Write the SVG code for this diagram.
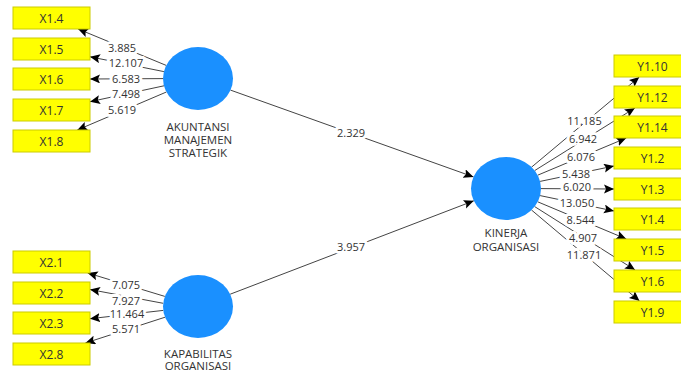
<svg xmlns="http://www.w3.org/2000/svg" width="681" height="373" viewBox="0 0 681 373">
<style>
.box{fill:#ffff00;stroke:#cccc00;stroke-width:1}
.bt{font-family:"Open Sans","Noto Sans",sans-serif;font-size:12px;fill:#333;text-anchor:middle}
.lv{fill:#1a90ff}
.lt{font-family:"Open Sans","Noto Sans",sans-serif;font-size:11.5px;fill:#333;text-anchor:middle}
.e{stroke:#444;stroke-width:1;fill:none;marker-end:url(#ah)}
.el{font-family:"Open Sans","Noto Sans",sans-serif;font-size:11px;fill:#333;text-anchor:middle;stroke:#fff;stroke-width:6;paint-order:stroke;stroke-linejoin:round}
</style>
<defs>
<marker id="ah" markerUnits="userSpaceOnUse" markerWidth="12" markerHeight="10" refX="10" refY="4.5" orient="auto">
<path d="M0,0 L10,4.5 L0,9 L2,4.5 Z" fill="#000"/>
</marker>
</defs>
<rect width="681" height="373" fill="#fff"/>
<g id="connectors">
<line class="e" x1="166.2" y1="65.4" x2="78.1" y2="29"/>
<line class="e" x1="163.9" y1="71.6" x2="90" y2="56.8"/>
<line class="e" x1="163" y1="78.6" x2="90" y2="79"/>
<line class="e" x1="164" y1="85.8" x2="90" y2="101.7"/>
<line class="e" x1="166.4" y1="92" x2="77.3" y2="130"/>
<line class="e" x1="164.8" y1="296.4" x2="87.7" y2="273"/>
<line class="e" x1="163.2" y1="303.3" x2="90" y2="289.5"/>
<line class="e" x1="163.3" y1="310.4" x2="90" y2="318.7"/>
<line class="e" x1="165.1" y1="317.2" x2="85.4" y2="343"/>
<line class="e" x1="230.5" y1="90.1" x2="473.5" y2="176.9"/>
<line class="e" x1="230.2" y1="294.2" x2="473.8" y2="200.8"/>
<line class="e" x1="531.6" y1="167.1" x2="639.3" y2="77"/>
<line class="e" x1="534.8" y1="170.5" x2="634.9" y2="108"/>
<line class="e" x1="537.7" y1="175.2" x2="626.3" y2="138"/>
<line class="e" x1="540.1" y1="181.4" x2="614" y2="166"/>
<line class="e" x1="541" y1="188.6" x2="614" y2="189"/>
<line class="e" x1="540.1" y1="195.6" x2="614" y2="211"/>
<line class="e" x1="537.7" y1="201.8" x2="626.3" y2="239"/>
<line class="e" x1="534.7" y1="206.6" x2="635.1" y2="270"/>
<line class="e" x1="531.5" y1="210" x2="639.5" y2="301"/>
<text class="el" x="122" y="52">3.885</text>
<text class="el" x="126" y="67">12.107</text>
<text class="el" x="126" y="83">6.583</text>
<text class="el" x="126" y="98">7.498</text>
<text class="el" x="122" y="114">5.619</text>
<text class="el" x="126" y="289">7.075</text>
<text class="el" x="126" y="305">7.927</text>
<text class="el" x="127" y="318">11.464</text>
<text class="el" x="126" y="333">5.571</text>
<text class="el" x="351" y="137">2.329</text>
<text class="el" x="351" y="251">3.957</text>
<text class="el" x="584.5" y="125">11.185</text>
<text class="el" x="583" y="143">6.942</text>
<text class="el" x="581" y="161">6.076</text>
<text class="el" x="576" y="178">5.438</text>
<text class="el" x="577" y="191">6.020</text>
<text class="el" x="577" y="207">13.050</text>
<text class="el" x="580.5" y="224">8.544</text>
<text class="el" x="583" y="242">4.907</text>
<text class="el" x="584" y="259">11.871</text>
</g>
<g id="X1.4"><rect class="box" x="13" y="7" width="77" height="22"/><text class="bt" x="51.5" y="22.5">X1.4</text></g>
<g id="X1.5"><rect class="box" x="13" y="38" width="77" height="22"/><text class="bt" x="51.5" y="53.5">X1.5</text></g>
<g id="X1.6"><rect class="box" x="13" y="68" width="77" height="22"/><text class="bt" x="51.5" y="83.5">X1.6</text></g>
<g id="X1.7"><rect class="box" x="13" y="99" width="77" height="22"/><text class="bt" x="51.5" y="114.5">X1.7</text></g>
<g id="X1.8"><rect class="box" x="13" y="130" width="77" height="22"/><text class="bt" x="51.5" y="145.5">X1.8</text></g>
<g id="X2.1"><rect class="box" x="13" y="251" width="77" height="22"/><text class="bt" x="51.5" y="266.5">X2.1</text></g>
<g id="X2.2"><rect class="box" x="13" y="282" width="77" height="22"/><text class="bt" x="51.5" y="297.5">X2.2</text></g>
<g id="X2.3"><rect class="box" x="13" y="312" width="77" height="22"/><text class="bt" x="51.5" y="327.5">X2.3</text></g>
<g id="X2.8"><rect class="box" x="13" y="343" width="77" height="22"/><text class="bt" x="51.5" y="358.5">X2.8</text></g>
<g id="Y1.10"><rect class="box" x="614" y="55" width="77" height="22"/><text class="bt" x="652.5" y="70.5">Y1.10</text></g>
<g id="Y1.12"><rect class="box" x="614" y="86" width="77" height="22"/><text class="bt" x="652.5" y="101.5">Y1.12</text></g>
<g id="Y1.14"><rect class="box" x="614" y="116" width="77" height="22"/><text class="bt" x="652.5" y="131.5">Y1.14</text></g>
<g id="Y1.2"><rect class="box" x="614" y="147" width="77" height="22"/><text class="bt" x="652.5" y="162.5">Y1.2</text></g>
<g id="Y1.3"><rect class="box" x="614" y="178" width="77" height="22"/><text class="bt" x="652.5" y="193.5">Y1.3</text></g>
<g id="Y1.4"><rect class="box" x="614" y="208" width="77" height="22"/><text class="bt" x="652.5" y="223.5">Y1.4</text></g>
<g id="Y1.5"><rect class="box" x="614" y="239" width="77" height="22"/><text class="bt" x="652.5" y="254.5">Y1.5</text></g>
<g id="Y1.6"><rect class="box" x="614" y="270" width="77" height="22"/><text class="bt" x="652.5" y="285.5">Y1.6</text></g>
<g id="Y1.9"><rect class="box" x="614" y="301" width="77" height="22"/><text class="bt" x="652.5" y="316.5">Y1.9</text></g>
<g id="AKUNTANSI_MANAJEMEN_STRATEGIK"><ellipse class="lv" cx="198" cy="78.5" rx="35" ry="31.5"/>
<text class="lt" x="198" y="131">AKUNTANSI</text><text class="lt" x="198" y="144">MANAJEMEN</text><text class="lt" x="198" y="157">STRATEGIK</text></g>
<g id="KAPABILITAS_ORGANISASI"><ellipse class="lv" cx="198" cy="306.5" rx="35" ry="31.5"/>
<text class="lt" x="198" y="357.5">KAPABILITAS</text><text class="lt" x="198" y="370">ORGANISASI</text></g>
<g id="KINERJA_ORGANISASI"><ellipse class="lv" cx="506" cy="188.5" rx="35" ry="31.5"/>
<text class="lt" x="506" y="237">KINERJA</text><text class="lt" x="506" y="251">ORGANISASI</text></g>
</svg>
